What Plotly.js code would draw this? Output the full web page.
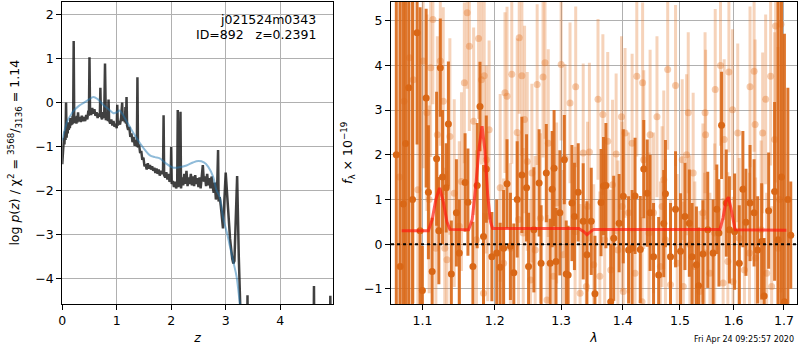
<!DOCTYPE html>
<html>
<head>
<meta charset="utf-8">
<script src="https://cdn.plot.ly/plotly-3.0.1.min.js"></script>
<style>html,body{margin:0;padding:0;background:#fff;}#chart{width:800px;height:350px;}</style>
</head>
<body>
<div id="chart"></div>
<script>
// ---- Left panel: p(z) ----
const zLine = [
0.00,0.015,0.03,0.04,0.05,0.06,0.07,0.08,0.09,0.10,
0.11,0.12,0.13,0.14,0.15,0.16,0.17,0.18,0.19,0.20,
0.21,0.22,0.23,0.24,0.25,0.26,0.27,0.28,0.29,0.30,
0.32,0.34,0.36,0.38,0.40,0.42,0.44,0.46,0.48,0.49,
0.50,0.51,0.53,0.55,0.57,0.59,0.61,0.63,0.65,0.67,
0.69,0.70,0.71,0.73,0.75,0.77,0.785,0.80,0.82,0.84,
0.85,0.86,0.88,0.90,0.92,0.94,0.96,0.98,1.00,1.01,
1.02,1.04,1.06,1.08,1.10,1.11,1.13,1.15,1.16,1.17,
1.18,1.19,1.21,1.23,1.25,1.27,1.29,1.31,1.33,1.35,
1.37,1.38,1.39,1.41,1.43,1.45,1.47,1.49,1.51,1.53,
1.55,1.57,1.59,1.61,1.63,1.65,1.67,1.69,1.71,1.73,
1.75,1.77,1.79,1.81,1.83,1.85,1.86,1.87,1.89,1.91,
1.93,1.95,1.97,1.99,2.00,2.01,2.03,2.05,2.07,2.09,
2.11,2.12,2.13,2.15,2.17,2.18,2.20,2.22,2.24,2.26,
2.28,2.30,2.32,2.34,2.36,2.38,2.40,2.42,2.44,2.46,
2.48,2.50,2.52,2.54,2.56,2.58,2.60,2.62,2.64,2.66,
2.68,2.70,2.72,2.74,2.76,2.78,2.80,2.82,2.84,2.86,
2.87,2.89,2.91,2.93,2.95,3.00,3.04,3.08,3.12,3.14,
3.16,3.21,3.24,3.27,3.30,3.39,3.40,3.41,4.61,4.62,
4.63,4.91,4.92,4.93];
const logpLine = [
-1.40,-1.05,-0.80,-0.95,-0.65,-0.85,0.00,-0.80,-0.55,-0.70,
-0.45,-0.62,-0.48,-0.58,-0.35,-0.52,-0.40,-0.50,-0.30,-0.48,
1.40,-0.45,-0.32,-0.46,-0.35,-0.48,-0.30,-0.45,-0.22,-0.42,
-0.33,-0.44,-0.30,-0.42,-0.33,-0.42,-0.28,-0.38,-0.18,-0.30,
1.03,-0.18,-0.28,-0.12,-0.25,-0.15,-0.30,-0.22,-0.35,-0.25,
-0.32,0.34,-0.30,-0.38,-0.22,-0.35,0.89,-0.40,-0.30,-0.42,
0.07,-0.40,-0.48,-0.38,-0.52,-0.42,-0.55,-0.48,-0.58,-0.05,
-0.52,-0.42,-0.50,-0.35,0.00,-0.42,-0.30,-0.45,-0.10,-0.48,
0.13,-0.52,-0.62,-0.55,-0.78,-0.70,-0.90,-0.78,-0.98,-0.85,
-1.00,0.58,-1.02,-0.95,-1.15,-1.10,-1.30,-1.25,-1.45,-1.40,
-1.52,-1.38,-1.50,-1.42,-1.52,-1.45,-1.55,-1.48,-1.60,-1.50,
-1.62,-1.52,-1.66,-1.55,-1.62,-1.58,-0.29,-1.65,-1.70,-1.58,
-1.75,-1.62,-1.80,-1.72,-1.01,-1.85,-1.78,-1.92,-1.80,-1.95,
-1.85,-0.17,-1.92,-1.80,-0.21,-1.95,-1.70,-1.88,-1.62,-1.85,
-1.55,-1.90,-1.70,-1.85,-1.62,-1.88,-1.68,-1.90,-1.65,-1.85,
-1.72,-1.92,-1.70,-1.95,-1.60,-1.42,-1.80,-1.68,-1.90,-1.62,
-1.88,-1.72,-1.95,-1.68,-1.90,-2.05,-1.82,-2.20,-2.10,-1.08,
-2.25,-2.15,-2.35,-2.55,-2.86,-1.59,-2.50,-3.10,-3.55,-3.66,
-3.60,-1.67,-3.50,-5.00,-6.00,-6.00,-4.38,-6.00,-6.00,-4.17,
-6.00,-6.00,-4.39,-6.00];
const zSmooth = [0,0.05,0.1,0.15,0.2,0.3,0.4,0.5,0.57,0.65,0.75,0.85,0.94,1.0,1.05,1.1,1.17,1.24,1.32,1.43,1.52,1.61,1.7,1.79,1.9,2.04,2.15,2.28,2.4,2.5,2.6,2.68,2.77,2.83,2.89,2.95,3.02,3.08,3.14,3.2,3.26,3.3];
const logpSmooth = [-0.86,-0.6,-0.4,-0.3,-0.2,-0.08,0.0,0.08,0.13,0.08,-0.05,-0.15,-0.24,-0.22,-0.18,-0.25,-0.4,-0.55,-0.72,-0.93,-1.08,-1.2,-1.24,-1.27,-1.38,-1.48,-1.47,-1.43,-1.36,-1.33,-1.36,-1.46,-1.69,-1.99,-2.15,-2.6,-2.95,-3.28,-3.62,-3.96,-4.57,-4.9];

// ---- Right panel: spectrum ----
const lamA = [1.066,1.071,1.075,1.078,1.082,1.087,1.093,1.097,1.100,1.105,1.108,1.113,1.119,1.122,1.124,1.127,1.132,1.135,1.139,1.146,1.150,1.158,1.162,1.169,1.175,1.179,1.184,1.188,1.196,1.203,1.208,1.213,1.218,1.223,1.228,1.233,1.240,1.247,1.250,1.258,1.266,1.269,1.277,1.283,1.286,1.289,1.292,1.298,1.305,1.308,1.311,1.317,1.321,1.327,1.335,1.341,1.348,1.354,1.364,1.368,1.372,1.380,1.385,1.394,1.401,1.410,1.416,1.421,1.430,1.436,1.442,1.447,1.453,1.462,1.471,1.474,1.483,1.492,1.501,1.509,1.517,1.522,1.530,1.534,1.542,1.551,1.561,1.568,1.572,1.577,1.586,1.592,1.602,1.611,1.618,1.624,1.632,1.640,1.647,1.655,1.660,1.669,1.681,1.688,1.695,1.701,1.708,1.714];
const fluxA = [2.0,-0.5,0.9,2.25,3.50,1.0,4.73,0.3,-1.04,3.27,1.16,-0.61,1.91,0.3,3.95,1.50,1.26,2.69,-0.67,0.70,-0.20,1.38,0.94,-0.50,1.31,3.08,0.17,1.68,-0.28,-0.20,-0.52,-0.09,1.35,-0.05,-0.64,1.00,1.55,1.26,-0.50,0.32,1.37,-0.43,1.59,-0.43,1.23,1.70,-0.39,0.70,1.89,-0.67,-0.69,0.92,0.62,1.16,0.51,-0.24,0.51,-1.11,0.93,1.30,1.31,-1.29,0.13,0.47,1.07,-0.13,-0.09,1.08,-0.12,1.68,1.14,0.70,-0.28,-0.69,0.46,1.13,-0.28,0.78,-0.16,0.62,0.47,-0.28,-0.46,-0.93,-0.22,0.32,-0.20,0.78,0.25,2.66,0.92,0.32,0.28,-0.43,1.23,0.49,0.92,0.70,-0.13,0.06,-1.16,0.75,1.18,0.10,1.5,-1.29,1.0,0.2];
const errA = [8,8,6,6,6,6,2.5,5,1.0,2.0,1.5,1.2,1.5,1.2,1.1,1.5,1.0,1.4,1.2,1.2,1.2,1.1,1.2,1.0,1.4,1.0,1.6,1.2,1.0,1.2,1.0,1.3,1.0,1.2,1.1,1.3,1.3,1.2,1.2,1.4,1.2,1.3,1.1,1.0,1.3,1.3,1.2,1.4,1.0,1.2,1.1,1.3,1.2,1.1,1.3,1.2,1.2,1.3,1.2,1.1,1.4,1.3,1.4,1.1,1.5,1.2,1.3,1.3,1.2,1.1,1.2,1.3,1.2,1.3,1.2,1.2,1.2,1.3,1.3,1.2,1.2,1.2,1.3,1.3,1.2,1.3,1.2,1.0,1.2,1.2,1.2,1.2,1.3,1.3,1.3,1.2,1.3,1.2,1.2,1.3,1.3,1.3,2.0,6,6,6,2.5,1.2];

const lamB = [
1.070,1.076,1.083,1.088,1.094,1.101,1.106,1.109,1.111,1.114,
1.118,1.120,1.124,1.128,1.130,1.133,1.137,1.143,1.150,1.153,
1.157,1.161,1.164,1.170,1.174,1.177,1.181,1.184,1.185,1.188,
1.190,1.192,1.208,1.213,1.215,1.218,1.223,1.225,1.233,1.235,
1.236,1.240,1.242,1.244,1.248,1.253,1.255,1.260,1.263,1.268,
1.272,1.275,1.278,1.280,1.288,1.293,1.300,1.303,1.306,1.314,
1.322,1.323,1.330,1.335,1.340,1.342,1.345,1.352,1.359,1.362,
1.367,1.370,1.375,1.380,1.383,1.389,1.392,1.398,1.399,1.401,
1.404,1.410,1.416,1.421,1.424,1.433,1.434,1.436,1.445,1.447,
1.453,1.459,1.465,1.468,1.471,1.474,1.478,1.483,1.492,1.495,
1.504,1.506,1.512,1.515,1.518,1.524,1.527,1.536,1.542,1.545,
1.546,1.547,1.555,1.564,1.565,1.575,1.580,1.582,1.589,1.591,
1.598,1.599,1.608,1.611,1.621,1.631,1.632,1.640,1.642,1.643,
1.654,1.657,1.663,1.665,1.673,1.675,1.681,1.683,1.688,1.691,
1.694];
const fluxB = [
1.5,3.2,4.17,3.68,1.22,4.10,2.94,1.0,3.95,5.03,
-0.09,2.45,4.10,3.20,-0.09,-0.35,2.41,1.14,0.4,1.40,
3.61,5.18,4.43,2.75,0.10,4.60,3.68,-1.10,3.77,1.89,
0.62,2.56,1.26,-0.43,3.39,3.31,-0.09,3.80,2.50,0.55,
4.62,3.77,0.25,2.79,1.85,-0.80,1.59,-0.13,3.57,0.58,
3.74,4.06,-1.25,2.26,-0.72,0.92,4.02,-0.24,1.93,3.16,
0.28,3.52,-1.10,2.04,-0.95,0.84,2.06,-0.46,3.24,-0.72,
2.90,0.10,2.30,-0.58,1.33,2.02,-0.13,2.85,0.84,-1.06,
2.49,0.70,2.26,-0.65,3.76,-1.29,3.61,1.89,0.25,2.45,
0.70,2.85,-0.50,0.84,1.44,0.10,3.91,-0.91,3.55,-0.43,
1.89,-0.95,2.00,2.94,-0.01,1.59,-0.50,-1.06,0.70,-0.20,
2.94,2.45,-0.65,0.25,3.46,4.00,-0.87,2.34,-0.39,3.85,
3.01,-0.84,2.49,0.13,-0.58,-0.20,3.52,3.87,2.68,-0.31,
0.32,2.49,3.24,-0.65,3.76,-0.95,2.34,4.88,-0.09,1.00,
4.92];
const errB = [
6,6,6,5,3.5,2.4,2.2,2.1,2.0,1.9,
2.0,2.2,1.9,2.1,1.8,2.0,2.2,2.1,1.9,2.0,
1.8,1.7,1.9,2.1,2.0,1.8,1.9,1.8,2.0,2.1,
1.9,2.0,2.1,1.9,1.8,2.0,1.9,2.0,2.1,1.9,
1.7,1.8,1.9,2.1,2.0,1.8,2.0,2.1,1.8,1.9,
1.8,1.7,1.9,2.1,2.0,1.8,1.7,1.9,2.1,1.8,
1.9,1.8,2.0,2.0,1.8,1.9,2.0,1.8,1.8,1.9,
1.8,1.9,2.0,1.8,1.9,1.8,2.0,1.8,1.9,1.8,
1.9,1.8,2.0,1.8,1.8,1.9,1.8,2.0,1.8,1.9,
1.8,1.8,1.9,1.8,2.0,1.8,1.8,1.9,1.8,2.0,
1.8,1.9,1.8,1.8,2.0,1.8,1.9,1.8,2.0,1.8,
1.8,1.9,1.8,2.0,1.8,1.8,1.9,1.8,2.0,1.8,
1.8,1.9,2.0,1.8,1.9,1.8,1.8,1.8,1.9,1.8,
2.0,1.8,1.9,1.8,2.0,1.8,2.4,3.5,4.5,6,
6];

const lamModel = [1.073,1.108,1.113,1.118,1.123,1.128,1.133,1.137,1.163,1.168,1.173,1.178,1.182,1.186,1.190,1.194,1.197,1.328,1.336,1.341,1.346,1.352,1.574,1.580,1.585,1.590,1.595,1.600,1.603,1.705];
const fluxModel = [0.30,0.30,0.55,1.0,1.26,0.95,0.50,0.33,0.32,0.55,1.3,2.2,2.64,2.1,1.1,0.5,0.35,0.35,0.28,0.21,0.27,0.33,0.33,0.6,0.95,1.05,0.8,0.45,0.32,0.31];

const lamTicks = [1.1,1.2,1.3,1.4,1.5,1.6,1.7];
const lamTickText = ['1.1','1.2','1.3','1.4','1.5','1.6','1.7'];

const orange = 'rgb(217,103,22)';
const orangeLight = 'rgba(228,120,45,0.33)';

const traces = [
  {x: zLine, y: logpLine, xaxis:'x', yaxis:'y', mode:'lines', line:{color:'rgba(30,30,30,0.85)', width:2.5}, hoverinfo:'skip'},
  {x: zSmooth, y: logpSmooth, xaxis:'x', yaxis:'y', mode:'lines', line:{color:'rgba(31,119,180,0.5)', width:2, shape:'spline'}, hoverinfo:'skip'},
  {x: lamB, y: fluxB, xaxis:'x2', yaxis:'y2', mode:'markers', marker:{color:'rgba(228,120,45,0.38)', size:7},
   error_y:{type:'data', array: errB, visible:true, color:orangeLight, thickness:3, width:0}},
  {x: lamA, y: fluxA, xaxis:'x2', yaxis:'y2', mode:'markers', marker:{color:orange, size:7},
   error_y:{type:'data', array: errA, visible:true, color:'rgba(217,103,22,0.9)', thickness:3, width:0}},
  {x: lamModel, y: fluxModel, xaxis:'x2', yaxis:'y2', mode:'lines', line:{color:'rgba(255,25,15,0.7)', width:3}}
];

const FS = 12.5;
const axisCommon = {showgrid:true, gridcolor:'#b0b0b0', gridwidth:1, zeroline:false, showline:true, mirror:true,
  linecolor:'black', linewidth:1, ticks:'outside', ticklen:5, tickcolor:'black', tickfont:{size:FS, color:'black'}, automargin:false};

const layout = {
  width:800, height:350, margin:{l:0,r:0,t:0,b:0}, showlegend:false,
  paper_bgcolor:'white', plot_bgcolor:'white',
  font:{family:'DejaVu Sans', color:'black', size:FS},
  xaxis: Object.assign({}, axisCommon, {domain:[0.0778,0.4163], range:[0,4.97], tickvals:[0,1,2,3,4], anchor:'y',
    title:{text:'<i>z</i>', font:{size:FS}, standoff:6}}),
  yaxis: Object.assign({}, axisCommon, {domain:[0.1314,0.9957], range:[-4.58,2.30], tickvals:[-4,-3,-2,-1,0,1,2], anchor:'x',
    title:{text:'log <i>p</i>(<i>z</i>) / χ<sup>2</sup> = <sup>3568</sup>/<sub>3136</sub> = 1.14', font:{size:FS}, standoff:12}}),
  xaxis2: Object.assign({}, axisCommon, {domain:[0.4888,0.9963], type:'log', range:[0.025,0.2373], tickvals:lamTicks, ticktext:lamTickText, anchor:'y2',
    title:{text:'<i>λ</i>', font:{size:FS}, standoff:6}}),
  yaxis2: Object.assign({}, axisCommon, {domain:[0.1314,0.9957], range:[-1.34,5.43], tickvals:[-1,0,1,2,3,4,5], anchor:'x2',
    title:{text:'<i>f</i><sub>λ</sub> × 10<sup>−19</sup>', font:{size:FS}, standoff:8}}),
  shapes:[{type:'line', xref:'x2 domain', yref:'y2', x0:0, x1:1, y0:0, y1:0, line:{color:'black', width:2, dash:'dot'}, layer:'above'}],
  annotations:[
    {xref:'paper', yref:'paper', x:0.3975, y:0.943, xanchor:'right', yanchor:'middle', showarrow:false, text:'j021524m0343', font:{size:FS}},
    {xref:'paper', yref:'paper', x:0.3975, y:0.901, xanchor:'right', yanchor:'middle', showarrow:false, text:'ID=892\u00a0\u00a0\u00a0z=0.2391', font:{size:FS}},
    {xref:'paper', yref:'paper', x:0.93, y:0.0314, xanchor:'center', yanchor:'middle', showarrow:false, text:'Fri Apr 24 09:25:57 2020', font:{size:8}}
  ]
};

Plotly.newPlot('chart', traces, layout, {displayModeBar:false});
</script>
</body>
</html>
